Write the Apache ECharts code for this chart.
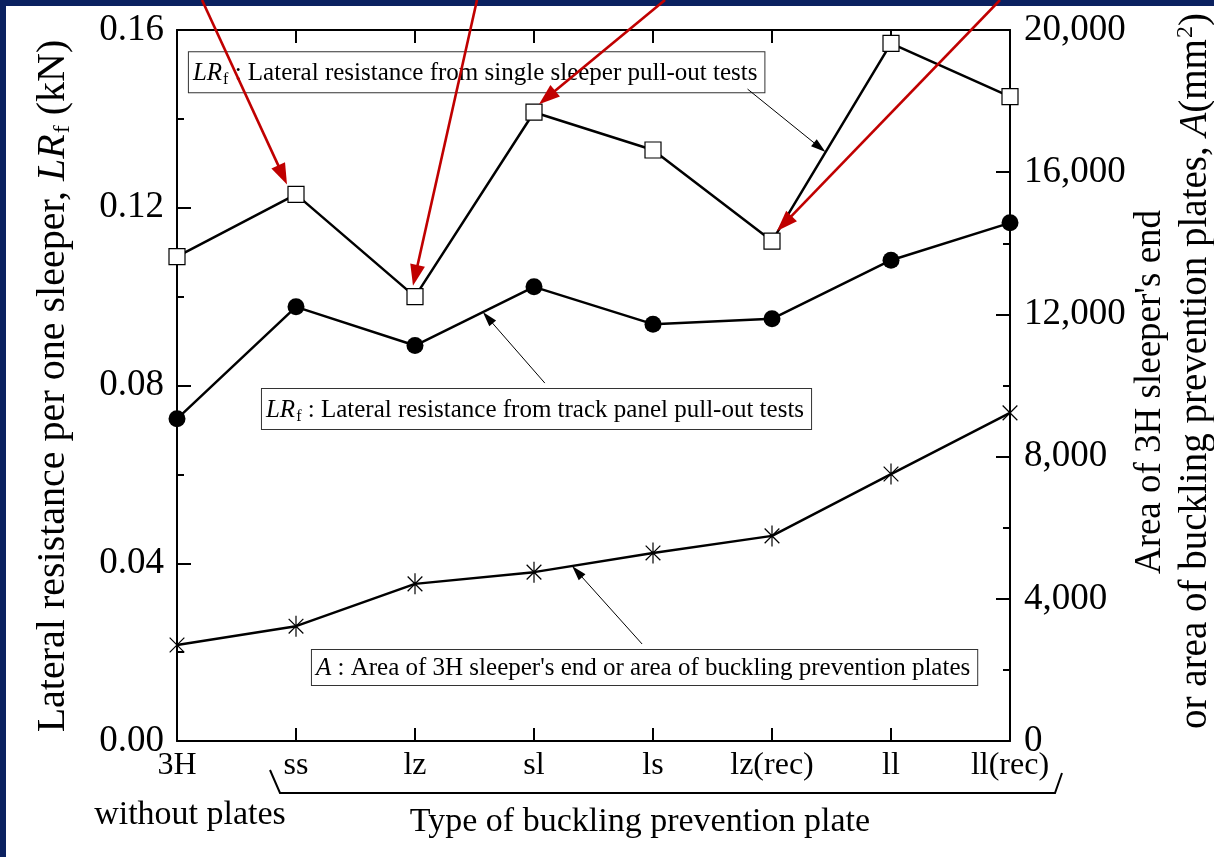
<!DOCTYPE html>
<html>
<head>
<meta charset="utf-8">
<script src="https://cdn.jsdelivr.net/npm/echarts@6/dist/echarts.min.js"></script>
<style>
  html, body { margin: 0; padding: 0; background: #fff; }
  #chart { width: 1214px; height: 857px; }
</style>
</head>
<body>
<div id="chart"></div>
<script>
// Plate types along the horizontal axis
const categories = ['3H', 'ss', 'lz', 'sl', 'ls', 'lz(rec)', 'll', 'll(rec)'];
// Lateral resistance per sleeper from single sleeper pull-out tests (kN)
const singleSleeper = [0.109, 0.123, 0.100, 0.1415, 0.133, 0.1125, 0.157, 0.145];
// Lateral resistance per sleeper from track panel pull-out tests (kN)
const trackPanel = [0.0725, 0.0977, 0.089, 0.1022, 0.0938, 0.095, 0.1082, 0.1166];
// Area of the 3H sleeper end or of the buckling prevention plate (mm^2)
const plateArea = [2700, 3230, 4420, 4750, 5290, 5770, 7510, 9230];
// Axis ranges and tick steps
const leftTicks = [0, 0.04, 0.08, 0.12, 0.16];
const rightTicks = [0, 4000, 8000, 12000, 16000, 20000];

const SERIF = '"Liberation Serif", "Times New Roman", serif';
const BLACK = '#000';
const RED = '#c00000';
const NAVY = '#0b2160';

const chart = echarts.init(document.getElementById('chart'), null, { renderer: 'canvas' });

const axisLine = { show: true, onZero: false, lineStyle: { color: BLACK, width: 2 } };
const tickStyle = { color: BLACK, width: 2 };

const option = {
  animation: false,
  backgroundColor: '#fff',
  grid: { left: 177, right: 204, top: 30, bottom: 116, containLabel: false, outerBoundsMode: 'none' },
  xAxis: [
    {
      type: 'category', data: categories, boundaryGap: false, position: 'bottom',
      axisLine: axisLine,
      axisTick: { show: true, inside: true, length: 13, lineStyle: tickStyle },
      axisLabel: { color: BLACK, fontFamily: SERIF, fontSize: 32, margin: 9, interval: 0 },
      splitLine: { show: false }
    },
    {
      type: 'category', data: categories, boundaryGap: false, position: 'top',
      axisLine: axisLine,
      axisTick: { show: true, inside: true, length: 13, lineStyle: tickStyle },
      axisLabel: { show: false },
      splitLine: { show: false }
    }
  ],
  yAxis: [
    {
      type: 'value', position: 'left',
      min: leftTicks[0], max: leftTicks[leftTicks.length - 1], interval: leftTicks[1] - leftTicks[0],
      axisLine: axisLine,
      axisTick: { show: true, inside: true, length: 14, lineStyle: tickStyle },
      minorTick: { show: true, splitNumber: 2, length: 7, lineStyle: tickStyle },
      splitLine: { show: false },
      axisLabel: { color: BLACK, fontFamily: SERIF, fontSize: 37, margin: 13, formatter: v => v.toFixed(2) }
    },
    {
      type: 'value', position: 'right',
      min: rightTicks[0], max: rightTicks[rightTicks.length - 1], interval: rightTicks[1] - rightTicks[0],
      axisLine: axisLine,
      axisTick: { show: true, inside: true, length: 14, lineStyle: tickStyle },
      minorTick: { show: true, splitNumber: 2, length: 7, lineStyle: tickStyle },
      splitLine: { show: false },
      axisLabel: { color: BLACK, fontFamily: SERIF, fontSize: 37, margin: 14, formatter: v => v.toLocaleString('en-US') }
    }
  ],
  series: [
    {
      name: 'single sleeper', type: 'line', data: singleSleeper, xAxisIndex: 0, yAxisIndex: 0,
      symbol: 'rect', symbolSize: 16, showAllSymbol: true, clip: false,
      lineStyle: { color: BLACK, width: 2.5 },
      itemStyle: { color: '#fff', borderColor: BLACK, borderWidth: 1.2 }, z: 4
    },
    {
      name: 'track panel', type: 'line', data: trackPanel, xAxisIndex: 0, yAxisIndex: 0,
      symbol: 'circle', symbolSize: 17, showAllSymbol: true, clip: false,
      lineStyle: { color: BLACK, width: 2.5 },
      itemStyle: { color: BLACK }, z: 4
    },
    {
      name: 'area', type: 'line', data: plateArea, xAxisIndex: 0, yAxisIndex: 1,
      symbol: 'path://M10 0L10 20M3 3L17 17M17 3L3 17', symbolSize: 21, symbolKeepAspect: true,
      showAllSymbol: true, clip: false,
      lineStyle: { color: BLACK, width: 2.5 },
      itemStyle: { color: 'none', borderColor: BLACK, borderWidth: 1.2 }, z: 4
    }
  ]
};
chart.setOption(option);

// ---------- annotations, placed through the chart's own coordinate system ----------
const P = (i, v, axis) => chart.convertToPixel({ xAxisIndex: 0, yAxisIndex: axis }, [i, v]);
const x0 = P(0, 0, 0)[0];
const step = P(1, 0, 0)[0] - x0;
const yBottom = P(0, 0, 0)[1];
const catX = k => x0 + step * k;

function along(series, axis, i, t) {
  const a = P(i, series[i], axis), b = P(i + 1, series[i + 1], axis);
  return [a[0] + (b[0] - a[0]) * t, a[1] + (b[1] - a[1]) * t];
}

function arrow(from, to, color, lw, headLen, headW, z) {
  const dx = to[0] - from[0], dy = to[1] - from[1];
  const L = Math.hypot(dx, dy), ux = dx / L, uy = dy / L;
  const base = [to[0] - ux * headLen, to[1] - uy * headLen];
  const nx = -uy, ny = ux;
  return [
    { type: 'line', z: z, silent: true,
      shape: { x1: from[0], y1: from[1], x2: base[0] + ux * 2, y2: base[1] + uy * 2 },
      style: { stroke: color, lineWidth: lw } },
    { type: 'polygon', z: z, silent: true,
      shape: { points: [to, [base[0] + nx * headW / 2, base[1] + ny * headW / 2], [base[0] - nx * headW / 2, base[1] - ny * headW / 2]] },
      style: { fill: color } }
  ];
}

const richBase = {
  i: { fontFamily: SERIF, fontStyle: 'italic', fontSize: 25, fill: BLACK },
  sub: { fontFamily: SERIF, fontSize: 16, fill: BLACK, padding: [14, 0, 0, 1] },
  t: { fontFamily: SERIF, fontSize: 25, fill: BLACK }
};

const notes = [
  { text: '{i|LR}{sub|f}{t| : Lateral resistance from single sleeper pull-out tests}',
    box: [0.10, 0.1550], series: singleSleeper, axis: 0, seg: 5, t: 0.45, from: [-78, -63] },
  { text: '{i|LR}{sub|f}{t| : Lateral resistance from track panel pull-out tests}',
    box: [0.714, 0.0792], series: trackPanel, axis: 0, seg: 2, t: 0.57, from: [62, 71] },
  { text: '{i|A}{t| : Area of 3H sleeper\'s end or area of buckling prevention plates}',
    box: [1.134, 0.0205], series: plateArea, axis: 1, seg: 3, t: 0.32, from: [70, 78] }
];

const highlights = [
  { idx: 1, tip: [-9, -10], startDx: -94 },
  { idx: 2, tip: [-2, -11], startDx: 62 },
  { idx: 3, tip: [5, -8], startDx: 131 },
  { idx: 5, tip: [5, -10], startDx: 228 }
];

const elements = [];

// frame bands
elements.push({ type: 'rect', z: 50, silent: true, shape: { x: 0, y: 0, width: 1214, height: 6 }, style: { fill: NAVY } });
elements.push({ type: 'rect', z: 50, silent: true, shape: { x: 0, y: 0, width: 6, height: 857 }, style: { fill: NAVY } });

notes.forEach(n => {
  const bx = catX(n.box[0]);
  const by = P(0, n.box[1], 0)[1];
  elements.push({
    type: 'text', z: 20, silent: true, x: bx, y: by,
    style: {
      text: n.text, rich: richBase, x: 0, y: 0, align: 'left', verticalAlign: 'top',
      fontFamily: SERIF, fontSize: 25, fill: BLACK,
      backgroundColor: '#fff', borderColor: '#333', borderWidth: 1, padding: [6, 7, 4, 4]
    }
  });
  const tip = along(n.series, n.axis, n.seg, n.t);
  arrow([tip[0] + n.from[0], tip[1] + n.from[1]], tip, BLACK, 1, 15, 9, 21).forEach(e => elements.push(e));
});

highlights.forEach(h => {
  const m = P(h.idx, singleSleeper[h.idx], 0);
  const tip = [m[0] + h.tip[0], m[1] + h.tip[1]];
  arrow([m[0] + h.startDx, 0], tip, RED, 2.6, 21, 15, 60).forEach(e => elements.push(e));
});

// bracket grouping the plate types
const bx1 = catX(1), bx7 = catX(7);
elements.push({
  type: 'polyline', z: 20, silent: true,
  shape: { points: [[bx1 - 26, yBottom + 29], [bx1 - 16, yBottom + 52], [bx7 + 45, yBottom + 52], [bx7 + 52, yBottom + 32]] },
  style: { stroke: BLACK, lineWidth: 2, fill: null }
});

// texts below the axis
elements.push({ type: 'text', z: 20, silent: true, x: catX(0) + 13, y: yBottom + 74,
  style: { text: 'without plates', x: 0, y: 0, align: 'center', verticalAlign: 'middle', fontFamily: SERIF, fontSize: 34, fill: BLACK } });
elements.push({ type: 'text', z: 20, silent: true, x: 640, y: yBottom + 81,
  style: { text: 'Type of buckling prevention plate', x: 0, y: 0, align: 'center', verticalAlign: 'middle', fontFamily: SERIF, fontSize: 34, fill: BLACK } });

// axis titles
elements.push({ type: 'text', z: 20, silent: true, x: 53, y: 386, rotation: Math.PI / 2,
  style: {
    text: '{t|Lateral resistance per one sleeper, }{i|LR}{sub|f}{t| (kN)}', x: 0, y: 0, align: 'center', verticalAlign: 'middle',
    rich: {
      t: { fontFamily: SERIF, fontSize: 40, fill: BLACK },
      i: { fontFamily: SERIF, fontStyle: 'italic', fontSize: 40, fill: BLACK },
      sub: { fontFamily: SERIF, fontSize: 24, fill: BLACK, padding: [20, 0, 0, 1] }
    }
  } });
elements.push({ type: 'text', z: 20, silent: true, x: 1150, y: 392, rotation: Math.PI / 2,
  style: { text: 'Area of 3H sleeper\'s end', x: 0, y: 0, align: 'center', verticalAlign: 'middle', fontFamily: SERIF, fontSize: 37, fill: BLACK } });
elements.push({ type: 'text', z: 20, silent: true, x: 1196, y: 371, rotation: Math.PI / 2,
  style: {
    text: '{t|or area of buckling prevention plates, }{i|A}{t|(mm}{sup|2}{t|)}', x: 0, y: 0, align: 'center', verticalAlign: 'middle',
    rich: {
      t: { fontFamily: SERIF, fontSize: 39, fill: BLACK },
      i: { fontFamily: SERIF, fontStyle: 'italic', fontSize: 39, fill: BLACK },
      sup: { fontFamily: SERIF, fontSize: 24, fill: BLACK, padding: [0, 0, 20, 1] }
    }
  } });

chart.setOption({ graphic: { elements: elements } });
</script>
</body>
</html>
